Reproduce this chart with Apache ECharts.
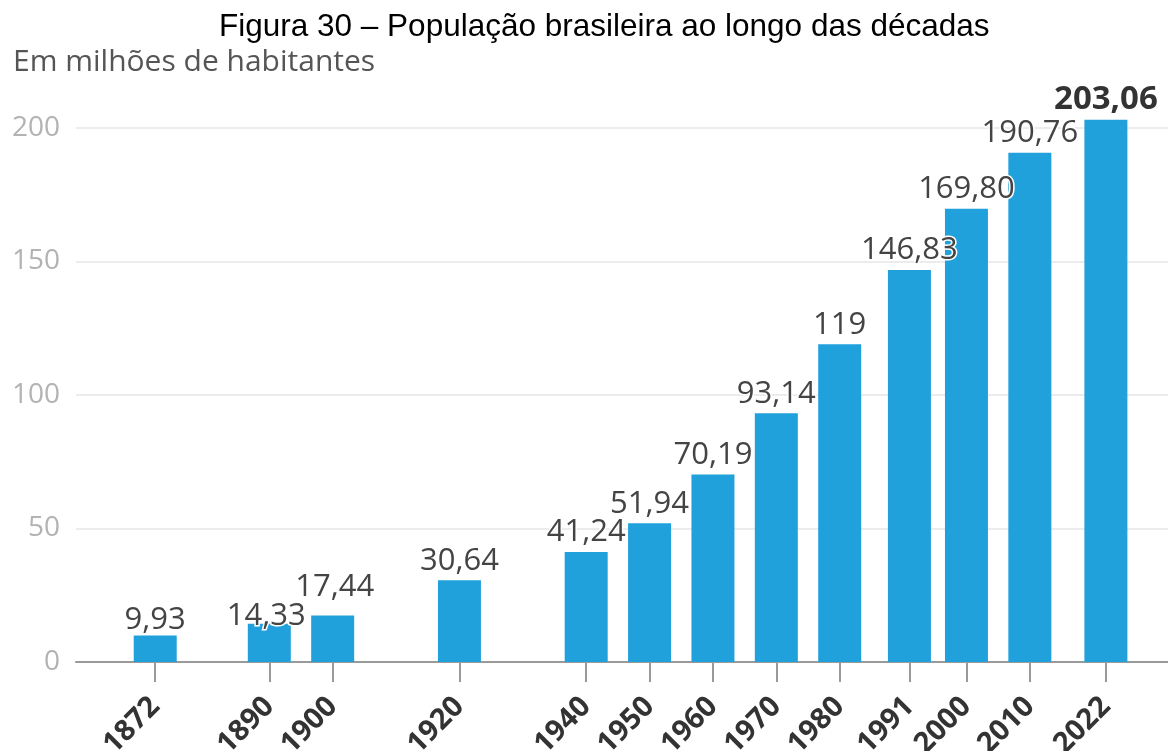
<!DOCTYPE html>
<html>
<head>
<meta charset="utf-8">
<script src="https://cdn.jsdelivr.net/npm/echarts@6/dist/echarts.min.js"></script>
<style>
  html, body { margin: 0; padding: 0; background: #fff; }
  #chart { width: 1168px; height: 751px; }
</style>
</head>
<body>
<div id="chart"></div>
<script>
// anos dos censos e população (milhões)
var anos = [1872, 1890, 1900, 1920, 1940, 1950, 1960, 1970, 1980, 1991, 2000, 2010, 2022];
var populacao = [9.93, 14.33, 17.44, 30.64, 41.24, 51.94, 70.19, 93.14, 119, 146.83, 169.80, 190.76, 203.06];
var yTicks = [0, 50, 100, 150, 200];

// pequenos ajustes de rótulo onde se sobrepõem
var ajusteRotulo = { 1872: [0, 4], 1890: [-3, 12], 1900: [2, -9] };

function fmt(v) {
    return Number.isInteger(v) ? String(v) : v.toFixed(2).replace('.', ',');
}

var dados = anos.map(function (ano, i) {
    var item = { value: [ano, populacao[i]] };
    var lbl = {};
    if (ajusteRotulo[ano]) lbl.offset = ajusteRotulo[ano];
    if (i === anos.length - 1) { lbl.fontWeight = 'bold'; lbl.color = '#333'; lbl.fontSize = 33; }
    item.label = lbl;
    return item;
});

var myChart = echarts.init(document.getElementById('chart'));

option = {
    animation: false,
    title: [
        {
            text: 'Figura 30 – População brasileira ao longo das décadas',
            left: 214,
            top: 6,
            textStyle: { fontFamily: 'Liberation Sans', fontSize: 31.5, fontWeight: 'normal', color: '#000' }
        },
        {
            text: 'Em milhões de habitantes',
            left: 8,
            top: 42,
            textStyle: { fontFamily: 'Open Sans', fontSize: 30, fontWeight: 'normal', color: '#555' }
        }
    ],
    grid: {
        left: 76,
        right: 0,
        top: 128,
        bottom: 89,
        containLabel: false,
        outerBoundsMode: 'none'
    },
    xAxis: {
        type: 'value',
        min: 1859.5,
        max: 2031.8,
        splitLine: { show: false },
        axisLine: { lineStyle: { color: '#9a9a9a', width: 2 } },
        axisTick: { customValues: anos, length: 20, lineStyle: { color: '#9a9a9a', width: 2 } },
        axisLabel: {
            customValues: anos,
            rotate: 45,
            margin: 40,
            fontFamily: 'Open Sans',
            fontWeight: 'bold',
            fontSize: 29,
            color: '#333',
            formatter: function (v) { return String(v); }
        }
    },
    yAxis: {
        type: 'value',
        min: 0,
        max: 200,
        interval: 50,
        axisLine: { show: false },
        axisTick: { show: false },
        splitLine: { lineStyle: { color: '#ececec', width: 2 } },
        axisLabel: {
            margin: 16,
            fontFamily: 'Open Sans',
            fontSize: 28,
            color: '#b3b3b3'
        }
    },
    series: [
        {
            type: 'bar',
            data: dados,
            barWidth: 43,
            clip: false,
            itemStyle: { color: '#21a1dc' },
            label: {
                show: true,
                position: 'top',
                distance: 4,
                fontFamily: 'Open Sans',
                fontSize: 31,
                color: '#444',
                textBorderColor: '#fff',
                textBorderWidth: 3,
                formatter: function (p) { return fmt(p.value[1]); }
            }
        }
    ]
};

myChart.setOption(option);
</script>
</body>
</html>
